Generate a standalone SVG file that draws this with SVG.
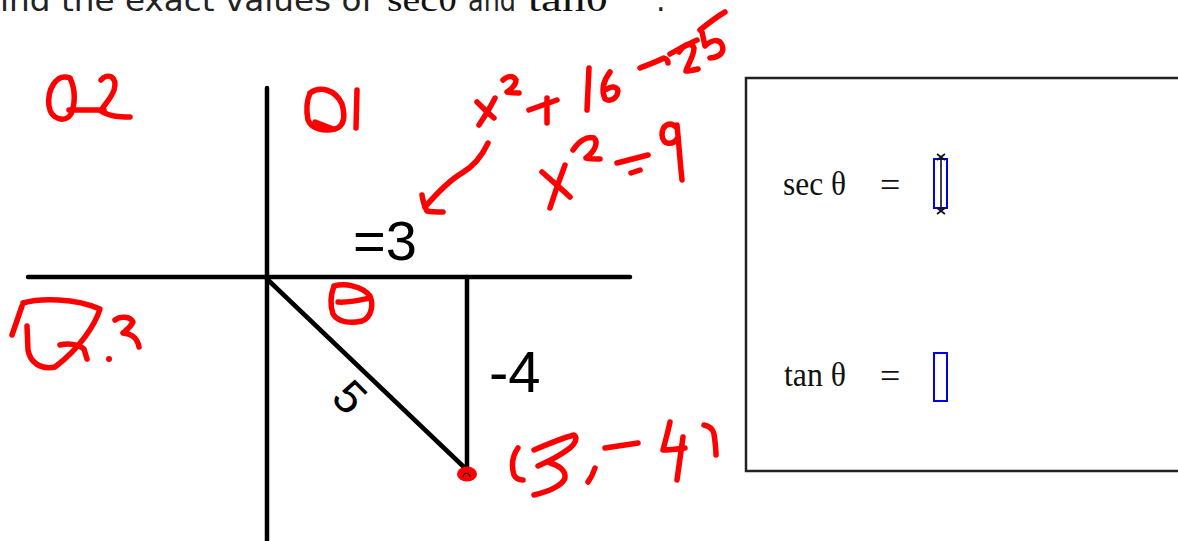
<svg xmlns="http://www.w3.org/2000/svg" width="1178" height="541" viewBox="0 0 1178 541">
<style>
.ax{stroke:#000;stroke-width:4.5;fill:none;stroke-linecap:round}
.ink{stroke:#ff0000;stroke-width:5.5;fill:none;stroke-linecap:round;stroke-linejoin:round}
.lbl{font-family:"Liberation Sans",Arial,sans-serif;fill:#000}
.math{font-family:"Liberation Serif","Times New Roman",serif;fill:#111}
.top{font-family:"DejaVu Sans",Verdana,sans-serif;font-size:30px;fill:#222}
.blank{fill:none;stroke:#0000ee;stroke-width:2}
</style>
<rect width="1178" height="541" fill="#fff"/>

<g id="heading">
<text class="top" x="0" y="11" textLength="373" lengthAdjust="spacingAndGlyphs">ind the exact values of</text>
<text class="math" x="387" y="11" font-size="34" textLength="70" lengthAdjust="spacingAndGlyphs">secθ</text>
<text class="top" x="468" y="11" textLength="48" lengthAdjust="spacingAndGlyphs">and</text>
<text class="math" x="528" y="11" font-size="34" textLength="80" lengthAdjust="spacingAndGlyphs">tanθ</text>
<text class="top" x="656" y="11">.</text>
</g>

<g id="axes">
<line class="ax" x1="267" y1="88" x2="267" y2="545"/>
<line class="ax" x1="28" y1="277" x2="630" y2="277"/>
</g>

<g id="triangle">
<line class="ax" x1="267" y1="279" x2="467" y2="470"/>
<line class="ax" x1="467" y1="277" x2="467" y2="470"/>
</g>

<g id="side-labels">
<text class="lbl" x="353" y="260" font-size="56">=3</text>
<text class="lbl" x="489" y="392" font-size="58">-4</text>
<text class="lbl" transform="translate(350,397) rotate(45)" x="0" y="16" text-anchor="middle" font-size="46">5</text>
</g>

<g id="answer-box">
<rect x="746" y="78" width="440" height="393" fill="#fff" stroke="#222" stroke-width="2.5"/>
<text class="math" x="783" y="195" font-size="34" textLength="63" lengthAdjust="spacingAndGlyphs">sec θ</text>
<text class="math" x="880" y="197" font-size="36">=</text>
<rect class="blank" x="934" y="159" width="13" height="49"/>
<g stroke="#111" stroke-width="1.6" fill="none">
<line x1="941" y1="158" x2="941" y2="210"/>
<path d="M937,154 L945,160 M945,154 L937,160 M937,208 L945,214 M945,208 L937,214"/>
</g>
<text class="math" x="784" y="386" font-size="34" textLength="62" lengthAdjust="spacingAndGlyphs">tan θ</text>
<text class="math" x="880" y="388" font-size="36">=</text>
<rect class="blank" x="934" y="353" width="13" height="48"/>
</g>

<g id="annotations">
<g id="q2">
<path class="ink" d="M70,78 C56,73 47,90 49,106 C51,120 66,123 71,114 C75,105 76,90 70,78"/>
<path class="ink" d="M69,110 L104,110"/>
<path class="ink" d="M101,80 C108,72 118,77 114,90 C111,99 103,106 101,111 C110,117 121,117 130,117"/>
</g>
<g id="q1">
<path class="ink" d="M310,93 C320,86 335,89 342,104 C345,115 345,126 335,129 C325,131 312,130 308,120 C306,110 307,100 310,93"/>
<path class="ink" d="M315,122 L333,129"/>
<path class="ink" d="M357,90 L356,128"/>
</g>
<g id="q3">
<path class="ink" d="M12,335 L22,306"/>
<path class="ink" d="M23,303 C40,298 75,298 100,309 C95,325 80,348 55,367 C40,370 30,362 28,350 L27,326"/>
<path class="ink" d="M60,345 C68,343 78,344 84,349 L87,359"/>
<path class="ink" d="M115,320 C120,316 130,316 133,322 C130,328 125,331 123,333 C130,334 137,336 139,347"/>
<circle cx="109" cy="359" r="3" fill="#ff0000"/>
</g>
<g id="theta-mark">
<path class="ink" d="M334,286 C345,283 362,286 370,296 C374,305 371,318 362,321 C350,324 338,322 333,314 C330,305 331,294 334,286"/>
<path class="ink" d="M338,302 C348,303 360,300 370,298"/>
</g>
<g id="eq1">
<path class="ink" d="M477,102 C483,108 488,113 494,118"/>
<path class="ink" d="M495,98 C490,108 485,116 479,125"/>
<path class="ink" d="M503,80 C507,76 513,75 516,80 C516,86 510,90 507,92 C511,93 515,93 519,93"/>
<path class="ink" d="M529,110 L557,100"/>
<path class="ink" d="M547,98 L547,123"/>
<path class="ink" d="M589,68 L587,110"/>
<path class="ink" d="M610,72 C604,80 601,90 605,99 C610,102 617,99 618,91 C617,86 611,86 607,89"/>
<path class="ink" d="M640,68 C650,64 658,61 664,58 C667,59 668,61 668,63"/>
<path class="ink" d="M670,54 C680,48 688,44 697,40"/>
<path class="ink" d="M679,52 C684,44 692,42 694,48 C694,56 688,64 686,71 C690,71 694,70 698,69"/>
<path class="ink" d="M700,30 C710,22 718,16 725,12"/>
<path class="ink" d="M702,32 L705,46 C711,40 719,38 722,45 C725,52 720,57 710,58"/>
</g>
<g id="eq2">
<path class="ink" d="M542,172 C552,181 562,189 570,197"/>
<path class="ink" d="M565,165 C560,178 555,192 550,208"/>
<path class="ink" d="M573,150 C578,142 586,136 594,138 C599,143 594,152 586,158 C591,159 596,159 600,159"/>
<path class="ink" d="M617,163 L648,155"/>
<path class="ink" d="M631,173 L640,170"/>
<path class="ink" d="M676,127 C670,121 662,125 662,135 C663,145 672,146 678,138"/>
<path class="ink" d="M677,125 C679,145 680,162 682,180"/>
</g>
<g id="arrow">
<path class="ink" d="M488,143 C482,156 474,166 462,173 C450,180 438,192 425,207"/>
<path class="ink" d="M422,195 C423,201 424,206 427,211 C432,212 438,212 443,212"/>
</g>
<g id="point">
<ellipse cx="467" cy="474" rx="10" ry="7.5" fill="#ff0000"/>
<path d="M463,477 C464,472 469,472 470,477" stroke="#000" stroke-width="1.2" fill="none"/>
<path class="ink" d="M518,448 C513,455 511,465 514,475 C516,479 519,480 523,480"/>
<path class="ink" d="M534,450 C548,444 562,438 574,435 C578,438 575,444 570,448 C562,454 552,460 538,466"/>
<path class="ink" d="M550,463 C558,465 566,470 565,478 C562,486 550,491 534,495"/>
<path class="ink" d="M595,468 C593,474 591,478 588,482"/>
<path class="ink" d="M605,448 L638,443"/>
<path class="ink" d="M670,422 C668,432 665,442 663,450 C670,450 678,449 685,448"/>
<path class="ink" d="M683,437 C681,452 679,466 677,480"/>
<path class="ink" d="M704,425 C709,426 713,429 714,434 C715,441 716,448 716,455"/>
</g>
</g>
</svg>
